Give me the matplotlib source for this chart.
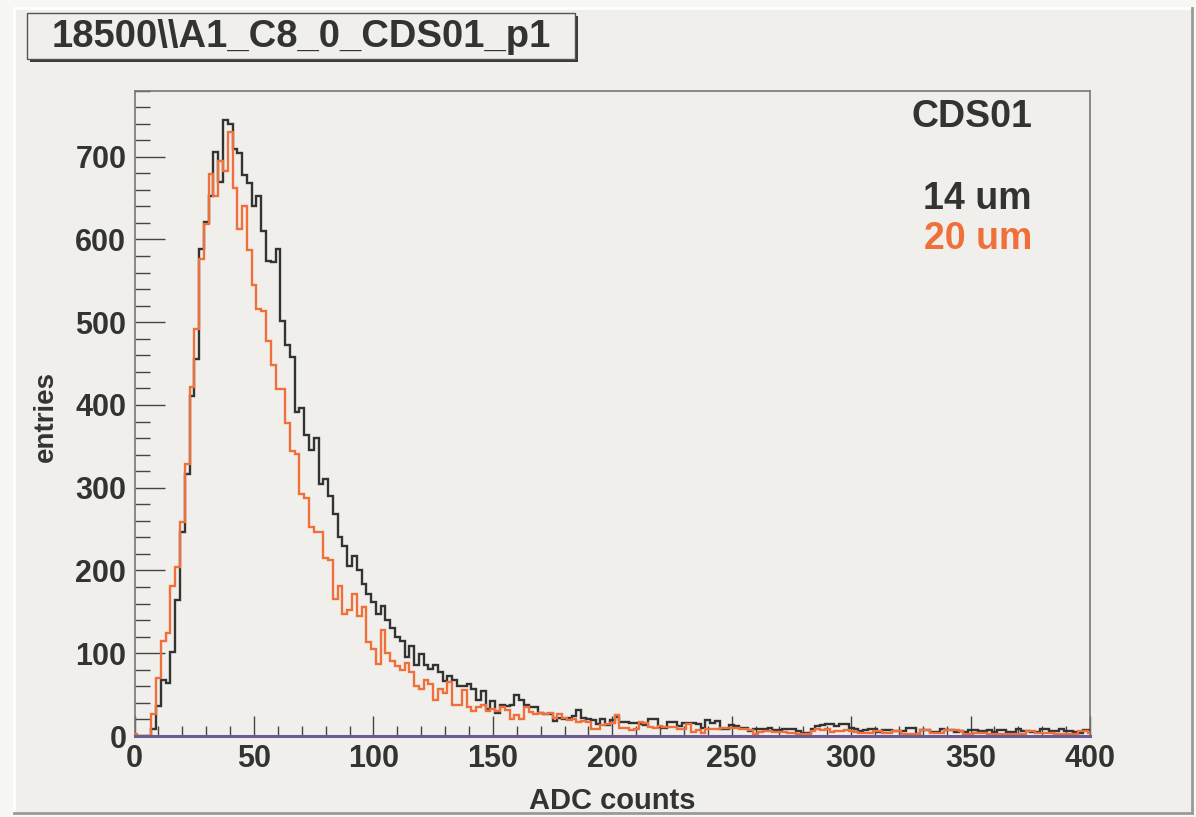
import numpy as np
import matplotlib
matplotlib.use("Agg")
import matplotlib.pyplot as plt
from matplotlib.patches import Rectangle
from matplotlib.lines import Line2D
from matplotlib.ticker import MultipleLocator

# ---- histogram contents: bins of width 2 ADC, centred on 0, 2, ..., 400 ----
bin_centers = np.arange(0, 401, 2)

entries_14um = [
    0, 0, 0, 0, 8, 36, 68, 64, 102, 164,            # 0 - 18
    246, 316, 411, 456, 589, 621, 652, 706, 670, 744,  # 20 - 38
    740, 709, 704, 678, 668, 640, 652, 610, 574, 573,  # 40 - 58
    589, 502, 472, 458, 392, 396, 364, 345, 360, 304,  # 60 - 78
    310, 290, 268, 240, 229, 205, 218, 201, 184, 172,  # 80 - 98
    162, 147, 157, 140, 131, 120, 115, 96, 109, 86,    # 100 - 118
    99, 86, 81, 86, 77, 66, 73, 68, 60, 60,            # 120 - 138
    63, 57, 44, 54, 33, 42, 28, 38, 36, 38,            # 140 - 158
    50, 44, 37, 35, 35, 28, 26, 26, 18, 22,            # 160 - 178
    21, 22, 24, 32, 22, 20, 19, 15, 20, 13,            # 180 - 198
    19, 23, 17, 17, 16, 16, 14, 13, 20, 20,            # 200 - 218
    11, 10, 17, 17, 12, 16, 16, 16, 15, 10,            # 220 - 238
    19, 16, 18, 9, 9, 13, 12, 10, 10, 6,               # 240 - 258
    8, 9, 9, 10, 7, 7, 8, 9, 9, 6,                     # 260 - 278
    4, 4, 9, 12, 13, 14, 14, 12, 15, 15,               # 280 - 298
    10, 9, 6, 7, 8, 8, 5, 7, 7, 6,                     # 300 - 318
    6, 6, 10, 10, 3, 7, 7, 5, 5, 8,                    # 320 - 338
    7, 7, 5, 6, 5, 7, 7, 6, 6, 7,                      # 340 - 358
    5, 7, 7, 5, 5, 8, 6, 6, 5, 5,                      # 360 - 378
    8, 8, 6, 6, 8, 6, 6, 5, 4, 7,                      # 380 - 398
    7,                                                 # 400
]

entries_20um = [
    3, 0, 0, 0, 27, 70, 115, 125, 181, 204,            # 0 - 18
    259, 329, 422, 492, 576, 619, 679, 652, 695, 683,  # 20 - 38
    730, 662, 613, 640, 587, 545, 516, 514, 477, 448,  # 40 - 58
    419, 419, 378, 344, 341, 292, 287, 252, 247, 247,  # 60 - 78
    215, 213, 165, 181, 147, 152, 172, 145, 156, 114,  # 80 - 98
    105, 87, 128, 100, 91, 85, 80, 88, 77, 61,         # 100 - 118
    57, 68, 63, 43, 57, 52, 65, 38, 38, 56,            # 120 - 138
    35, 30, 35, 38, 30, 33, 30, 35, 32, 21,            # 140 - 158
    25, 20, 35, 29, 26, 28, 26, 28, 22, 26,            # 160 - 178
    22, 19, 20, 17, 18, 17, 8, 9, 13, 14,              # 180 - 198
    16, 25, 10, 10, 7, 9, 17, 16, 11, 10,              # 200 - 218
    12, 11, 11, 11, 9, 9, 15, 5, 7, 4,                 # 220 - 238
    9, 8, 9, 10, 10, 10, 10, 9, 8, 7,                  # 240 - 258
    3, 5, 6, 6, 5, 5, 5, 4, 4, 2,                      # 260 - 278
    2, 2, 6, 8, 7, 9, 5, 6, 6, 7,                      # 280 - 298
    6, 5, 4, 4, 4, 6, 6, 4, 4, 6,                      # 300 - 318
    6, 3, 3, 3, 3, 7, 7, 4, 4, 4,                      # 320 - 338
    7, 7, 7, 6, 3, 3, 4, 4, 4, 2,                      # 340 - 358
    2, 2, 3, 3, 3, 2, 2, 6, 6, 4,                      # 360 - 378
    4, 4, 4, 3, 3, 3, 3, 3, 6, 6,                      # 380 - 398
    4,                                                 # 400
]

series_labels = ["14 um", "20 um"]
panel_title = "18500\\\\A1_C8_0_CDS01_p1"
legend_header = "CDS01"
x_title = "ADC counts"
y_title = "entries"

# ---- styling ----
W, H = 1196, 817
BG = "#f0efeb"
DARK = "#333333"
ORANGE = "#f0703c"
AXIS_PURPLE = "#6e5b95"
FONT = "Liberation Sans"

plt.rcParams["font.family"] = [FONT, "DejaVu Sans"]


def fx(x):
    return x / W


def fy(y):
    return 1 - y / H


fig = plt.figure(figsize=(W / 100, H / 100), dpi=100, facecolor="#f7f7f5")

# canvas pad with bevelled border (kept behind the axes)
fig.patches.append(Rectangle((fx(14), fy(813)), (1192 - 14) / W, (813 - 8) / H,
                             transform=fig.transFigure, facecolor=BG,
                             edgecolor="none", zorder=-10))
for xs, ys, col in [((14, 14), (8, 813), "#ffffff"),
                    ((14, 1192), (8, 8), "#ffffff"),
                    ((14, 1192), (813, 813), "#9a9a98"),
                    ((1192, 1192), (8, 813), "#9a9a98")]:
    fig.add_artist(Line2D([fx(v) for v in xs], [fy(v) for v in ys],
                          transform=fig.transFigure, color=col, lw=2, zorder=-5))

# title box with drop shadow
bx0, by0, bx1, by1 = 27, 13, 575, 59
fig.patches.append(Rectangle((fx(bx0 + 3), fy(by1 + 3)), (bx1 - bx0) / W, (by1 - by0) / H,
                             transform=fig.transFigure, facecolor="#3a3a3a",
                             edgecolor="none", zorder=1))
fig.patches.append(Rectangle((fx(bx0), fy(by1)), (bx1 - bx0) / W, (by1 - by0) / H,
                             transform=fig.transFigure, facecolor=BG,
                             edgecolor="#555555", lw=1, zorder=2))
fig.text(fx((bx0 + bx1) / 2), fy((by0 + by1) / 2 + 1), panel_title, ha="center", va="center",
         fontsize=27.5, fontweight="bold", color=DARK, zorder=3)

# plot frame
ax = fig.add_axes([fx(134.6), fy(736), (1090 - 134.6) / W, (736 - 90.5) / H])
ax.set_facecolor(BG)
ax.set_zorder(1)

edges = np.append(bin_centers - 1, bin_centers[-1] + 1)
ax.stairs(entries_14um, edges, color=DARK, lw=1.7, baseline=0, zorder=3)
ax.stairs(entries_20um, edges, color=ORANGE, lw=1.7, baseline=0, zorder=4)

ax.set_xlim(0, 400)
ax.set_ylim(0, 780)

ax.xaxis.set_major_locator(MultipleLocator(50))
ax.xaxis.set_minor_locator(MultipleLocator(10))
ax.yaxis.set_major_locator(MultipleLocator(100))
ax.yaxis.set_minor_locator(MultipleLocator(20))

ax.tick_params(which="both", direction="in", top=False, right=False,
               color="#444444", width=1.0)
ax.tick_params(axis="x", which="major", length=14.4, pad=6)
ax.tick_params(axis="x", which="minor", length=7.2)
ax.tick_params(axis="y", which="major", length=21.6, pad=6)
ax.tick_params(axis="y", which="minor", length=10.8)
for lab in ax.get_xticklabels() + ax.get_yticklabels():
    lab.set_fontsize(22)
    lab.set_fontweight("bold")
    lab.set_color(DARK)

for side in ("left", "top", "right"):
    ax.spines[side].set_color("#777777")
    ax.spines[side].set_linewidth(1.2)
ax.spines["bottom"].set_color(AXIS_PURPLE)
ax.spines["bottom"].set_linewidth(2.2)
ax.spines["bottom"].set_zorder(5)

# axis titles
fig.text(fx(612), fy(801), x_title, ha="center", va="center",
         fontsize=21, fontweight="bold", color=DARK)
fig.text(fx(46), fy(417), y_title, ha="center", va="center", rotation=90,
         fontsize=20, fontweight="bold", color=DARK)

# legend-like labels
fig.text(fx(1032), fy(117), legend_header, ha="right", va="center",
         fontsize=27, fontweight="bold", color=DARK, zorder=6)
fig.text(fx(1032), fy(199), series_labels[0], ha="right", va="center",
         fontsize=27, fontweight="bold", color=DARK, zorder=6)
fig.text(fx(1032), fy(239), series_labels[1], ha="right", va="center",
         fontsize=27, fontweight="bold", color=ORANGE, zorder=6)

assert len(entries_14um) == len(bin_centers) == len(entries_20um)
fig.savefig("out.png", dpi=100, facecolor=fig.get_facecolor())
